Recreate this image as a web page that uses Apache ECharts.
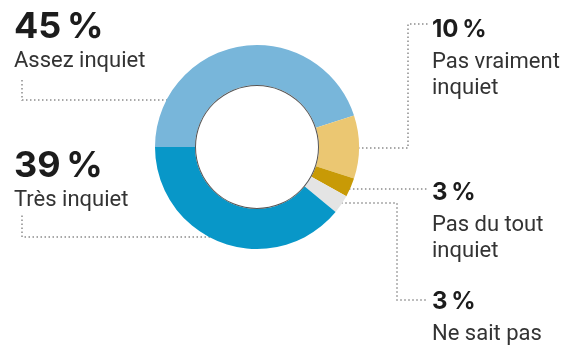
<!DOCTYPE html>
<html>
<head>
<meta charset="utf-8">
<script src="https://cdn.jsdelivr.net/npm/echarts@6/dist/echarts.min.js"></script>
<style>
  html, body { margin: 0; padding: 0; background: #fff; }
  #main { width: 565px; height: 347px; }
</style>
</head>
<body>
<div id="main"></div>
<script>
// données
var labels = ["Assez inquiet", "Pas vraiment\ninquiet", "Pas du tout\ninquiet", "Ne sait pas", "Très inquiet"];
var values = [45, 10, 3, 3, 39];
var colors = ["#78b6da", "#ebc772", "#c89a06", "#e4e4e4", "#0897c8"];

// mise en page des étiquettes (position du texte + trajet du trait pointillé)
var center = [257, 147];
var rOut = 102, rIn = 62;
var big = [true, false, false, false, true];
var labelPos = [
  { x: 14, y: 6, lineY: 100, path: [[22, 100], [22, 78]] },
  { x: 432, y: 10, lineY: 148, path: [[408, 148], [408, 24], [428, 24]] },
  { x: 432, y: 173, lineY: 189, path: [[428, 189]] },
  { x: 432, y: 282, lineY: 203, path: [[397, 203], [397, 300], [428, 300]] },
  { x: 14, y: 145, lineY: 237, path: [[22, 237], [22, 215]] }
];

// point d'attache sur le bord extérieur de l'anneau
function edgePoint(i) {
  var p = labelPos[i];
  var dy = p.lineY - center[1];
  var dx = Math.sqrt(rOut * rOut - dy * dy) - 1;
  var side = p.x < center[0] ? -1 : 1;
  return [center[0] + side * dx, p.lineY];
}

var chart = echarts.init(document.getElementById("main"));

var option = {
  animation: false,
  textStyle: { fontFamily: "Roboto, 'Liberation Sans', sans-serif" },
  series: [
    {
      type: "pie",
      center: center,
      radius: [rIn, rOut],
      startAngle: 180,
      clockwise: true,
      avoidLabelOverlap: false,
      silent: true,
      data: values.map(function (v, i) {
        return { name: labels[i], value: v, itemStyle: { color: colors[i] } };
      }),
      label: {
        show: true,
        position: "outside",
        formatter: function (params) {
          var k = big[params.dataIndex] ? "v" : "s";
          var lines = params.name.split("\n").map(function (t) {
            return "{n|" + t + "}";
          });
          // espace fine insécable avant %
          return "{" + k + "|" + params.value + "\u202f%}\n" + lines.join("\n");
        },
        rich: {
          v: { fontSize: 36, fontWeight: "bold", color: "#1c1c1c", lineHeight: 42, fontFamily: "Inter" },
          s: { fontSize: 24, fontWeight: "bold", color: "#1c1c1c", lineHeight: 39, fontFamily: "Inter" },
          n: { fontSize: 22, color: "#333", lineHeight: 26, fontFamily: "Roboto" }
        }
      },
      labelLine: {
        show: true,
        lineStyle: { color: "#8c8c8c", width: 1.5, type: [1.5, 2.5] }
      },
      labelLayout: function (params) {
        var i = params.dataIndex;
        var p = labelPos[i];
        return {
          x: p.x,
          y: p.y,
          align: "left",
          verticalAlign: "top",
          labelLinePoints: [edgePoint(i)].concat(p.path)
        };
      }
    },
    {
      // fin liseré autour du trou central
      type: "pie",
      center: center,
      radius: [rIn - 1, rIn],
      silent: true,
      label: { show: false },
      labelLine: { show: false },
      data: [{ value: 1, itemStyle: { color: "#555" } }]
    }
  ]
};

chart.setOption(option);
</script>
</body>
</html>
